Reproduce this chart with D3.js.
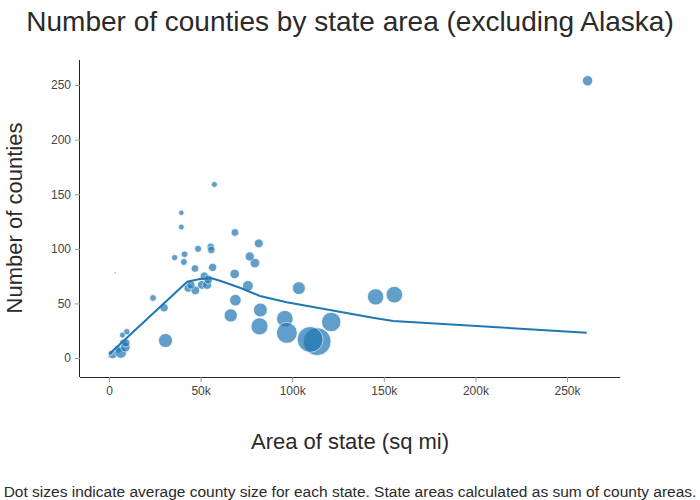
<!DOCTYPE html>
<html>
<head>
<meta charset="utf-8">
<script src="https://cdn.jsdelivr.net/npm/d3@7"></script>
<style>
  html, body { margin: 0; padding: 0; background: #fff; }
  svg { display: block; font-family: "Liberation Sans", Arial, sans-serif; }
</style>
</head>
<body>
<svg id="chart" width="700" height="500"></svg>
<script>
// States (alphabetical), land area (sq mi, sum of county areas) and number of counties
const states = ["Alabama","Arizona","Arkansas","California","Colorado","Connecticut","Delaware","District of Columbia","Florida","Georgia","Hawaii","Idaho","Illinois","Indiana","Iowa","Kansas","Kentucky","Louisiana","Maine","Maryland","Massachusetts","Michigan","Minnesota","Mississippi","Missouri","Montana","Nebraska","Nevada","New Hampshire","New Jersey","New Mexico","New York","North Carolina","North Dakota","Ohio","Oklahoma","Oregon","Pennsylvania","Puerto Rico","Rhode Island","South Carolina","South Dakota","Tennessee","Texas","Utah","Vermont","Virginia","Washington","West Virginia","Wisconsin","Wyoming"];
const areas = [50645,113594,52035,155779,103642,4842,1949,61,53625,57513,6423,82643,55519,35826,55857,81759,39486,43204,30843,9707,7800,56539,79627,46923,68742,145546,76824,109781,8953,7354,121298,47126,48618,69001,40861,68595,95988,44743,3424,1034,30061,75811,41235,261232,82170,9217,39490,66456,24038,54158,97093];
const counties = [67,15,75,58,64,8,3,1,67,159,5,44,102,92,99,105,120,64,16,24,14,83,87,82,115,56,93,17,10,21,33,62,100,53,88,77,36,67,78,5,46,66,95,254,29,14,133,39,55,72,23];

// Trend line
const trendX = [61,42700,49700,56000,60600,71500,82400,97000,120600,144000,155200,260800];
const trendY = [3.5,69.9,72.3,73.0,70.8,64.4,56.8,51.0,44.0,36.9,33.9,23.2];

const xTicks = [0,50000,100000,150000,200000,250000];
const xTickLabels = ["0","50k","100k","150k","200k","250k"];
const yTicks = [0,50,100,150,200,250];

const titleText = "Number of counties by state area (excluding Alaska)";
const xTitle = "Area of state (sq mi)";
const yTitle = "Number of counties";
const caption = "Dot sizes indicate average county size for each state. State areas calculated as sum of county areas.";

const svg = d3.select("#chart");
const W = 700, H = 500;
const L = 80, R = 620, T = 60, B = 377;

const x = d3.scaleLinear().domain([-15830, 278930]).range([L, R]);
const y = d3.scaleLinear().domain([-17.4, 273]).range([B, T]);

const data = states.map((s, i) => ({ state: s, area: areas[i], n: counties[i], avg: areas[i] / counties[i] }));
const maxAvg = d3.max(data, d => d.avg);
const r = d3.scaleSqrt().domain([0, maxAvg]).range([0, 14]);

// Axes
const xAxis = d3.axisBottom(x).tickValues(xTicks).tickFormat((d, i) => xTickLabels[i]).tickSize(5).tickSizeOuter(0).tickPadding(4);
const yAxis = d3.axisLeft(y).tickValues(yTicks).tickSize(5).tickSizeOuter(0).tickPadding(4);

const gx = svg.append("g").attr("transform", `translate(0,${B})`).call(xAxis);
const gy = svg.append("g").attr("transform", `translate(${L},0)`).call(yAxis);
[gx, gy].forEach(g => {
  g.select(".domain").attr("stroke", "#222").attr("stroke-width", 1);
  g.selectAll(".tick line").attr("stroke", "#999");
  g.selectAll(".tick text").attr("fill", "#444").attr("font-size", 12)
    .attr("font-family", "'Liberation Sans', Arial, sans-serif");
});
gx.select(".domain").attr("d", `M${L},0.5H${R}`);
gy.select(".domain").attr("d", `M-0.5,${T}V${B}`);

// Dots
svg.append("g").selectAll("circle").data(data).join("circle")
  .attr("cx", d => x(d.area))
  .attr("cy", d => y(d.n))
  .attr("r", d => r(d.avg))
  .attr("fill", "#1f77b4")
  .attr("stroke", "#ffffff")
  .attr("stroke-width", 0.8)
  .attr("opacity", 0.7);

// Trend line
const trend = trendX.map((v, i) => [v, trendY[i]]);
svg.append("path").datum(trend)
  .attr("d", d3.line().x(d => x(d[0])).y(d => y(d[1])))
  .attr("fill", "none")
  .attr("stroke", "#1f77b4")
  .attr("stroke-width", 2);

// Titles
svg.append("text").attr("x", W / 2).attr("y", 31).attr("text-anchor", "middle")
  .attr("font-size", 28).attr("fill", "#2a2a2a").text(titleText);
svg.append("text").attr("x", W / 2).attr("y", 449).attr("text-anchor", "middle")
  .attr("font-size", 22).attr("fill", "#2a2a2a").text(xTitle);
svg.append("text").attr("transform", `translate(22,218) rotate(-90)`).attr("text-anchor", "middle")
  .attr("font-size", 22).attr("fill", "#2a2a2a").text(yTitle);
svg.append("text").attr("x", W / 2).attr("y", 497).attr("text-anchor", "middle")
  .attr("font-size", 15.5).attr("fill", "#2a2a2a").text(caption);
</script>
</body>
</html>
